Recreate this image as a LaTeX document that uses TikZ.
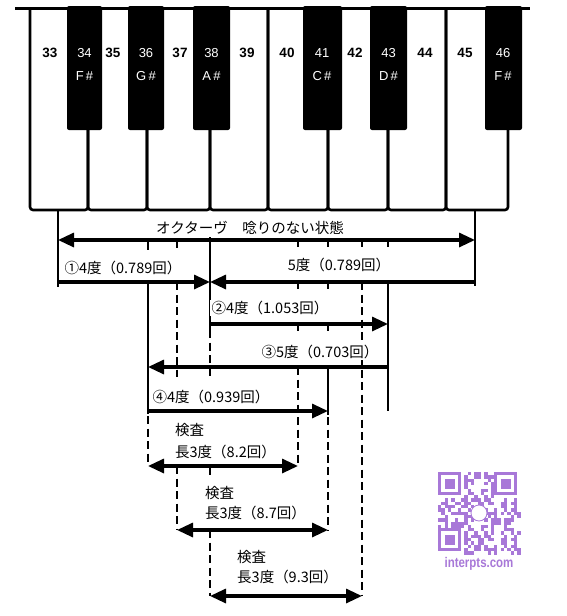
\documentclass[tikz,border=0pt]{standalone}
\usepackage{fontspec}
\setmainfont{Liberation Sans}
\newfontfamily\jp{Noto Sans CJK JP}
\usetikzlibrary{arrows.meta,calc}
\definecolor{qrpurple}{RGB}{168,120,216}
\begin{document}
\begin{tikzpicture}[x=1pt,y=-1pt,
  keyline/.style={line width=2.6pt, rounded corners=3pt},
  lead/.style={line width=2.6pt},
  dlead/.style={line width=2.6pt, dash pattern=on 8pt off 4.5pt},
  dimline/.style={line width=3.2pt},
  arrR/.style={-{Triangle[length=16pt,width=14pt]}},
  arrL/.style={{Triangle[length=16pt,width=14pt]}-},
  arrLR/.style={{Triangle[length=16pt,width=14pt]}-{Triangle[length=16pt,width=14pt]}},
  lbl/.style={font=\jp\fontsize{14.5}{16}\selectfont, inner sep=1.5pt, fill=white},
  lblw/.style={font=\jp\fontsize{14.5}{16}\selectfont, inner sep=0pt, anchor=west},
  wnum/.style={font=\bfseries\fontsize{13.5}{15}\selectfont},
  bnum/.style={text=white, font=\fontsize{13}{15}\selectfont},
]
\useasboundingbox[fill=white] (0,0) rectangle (567,616);

% ---------- keyboard ----------
\foreach \xl/\xr in {30/88,88/147,147/210,210/268,268/328,328/388,388/446,446/508}
  \draw[keyline] (\xl,8) -- (\xl,210) -- (\xr,210) -- (\xr,8);
\foreach \xl/\xr in {67/102,128/164,193/230,303/342,370/407,485/522}
  \fill[rounded corners=2pt] (\xl,6) -- (\xl,130) -- (\xr,130) -- (\xr,6) -- cycle;
\draw[line width=3pt] (15,8) -- (530,8);

\foreach \n/\x in {33/50,35/113,37/180,39/247,40/287,42/355,44/425,45/465}
  \node[wnum] (k\n) at (\x,53) {\n};
\foreach \n/\x/\s in {34/84.5/F,36/146/G,38/211.5/A,41/322/C,43/388.5/D,46/503/F}{
  \node[bnum] (k\n) at (\x,53) {\n};
  \node[bnum] (s\n) at (\x,76) {\s\,\#};
}

% ---------- coordinates ----------
\foreach \n/\x in {a/58,b/148,c/177,d/210,e/298,f/328,g/362,h/388,i/475}
  \foreach \m/\y in {K/211,0/240,1/282,2/324,3/367,4/411,5/466,6/530,7/596}
    \coordinate (\n\m) at (\x,\y);

% ---------- leader lines ----------
\draw[lead] (aK) -- ($(a1)+(0,5)$);
\draw[lead] (iK) -- ($(i1)+(0,4)$);
% key 38
\draw[lead] ($(d0)+(0,-3)$) -- ($(d2)+(0,6)$);
\draw[dlead] ($(d2)+(0,6)$) -- ($(d3)+(0,11)$);
\draw[lead] (d5) -- ($(d5)+(0,9)$);
\draw[dlead] (d6) -- (d7);
% key 36
\draw[lead] (b0) -- ($(b0)+(0,10)$);
\draw[lead] (b1) -- ($(b4)+(0,3)$);
\draw[dlead] ($(b4)+(0,5)$) -- (b5);
% key 37
\draw[dlead] (c0) -- ($(c0)+(0,10)$);
\draw[dlead] (c1) -- ($(c3)+(0,10)$);
\draw[dlead] (c5) -- (c6);
% key 40
\foreach \y in {0,1,2} \draw[lead] (e\y) -- ($(e\y)+(0,7)$);
\draw[dlead] (e3) -- (e5);
% key 41
\foreach \y in {0,1,2} \draw[lead] (f\y) -- ($(f\y)+(0,7)$);
\draw[lead] (f3) -- ($(f4)+(0,4)$);
\draw[dlead] ($(f4)+(0,6)$) -- (f6);
% key 42
\draw[lead] (g0) -- ($(g0)+(0,7)$);
\draw[dlead] (g1) -- (g7);
% key 43
\draw[lead] (h0) -- ($(h0)+(0,7)$);
\draw[lead] (h1) -- (h4);

% ---------- dimension lines ----------
\draw[dimline, arrLR] (a0) -- (i0);
\draw[dimline, arrR] (a1) -- (d1);
\draw[dimline, arrL] (d1) -- (i1);
\draw[dimline, arrR] (d2) -- (h2);
\draw[dimline, arrR] (h3) -- (b3);
\draw[dimline, arrR] (b4) -- (f4);
\draw[dimline, arrLR] (b5) -- (e5);
\draw[dimline, arrLR] (c6) -- (f6);
\draw[dimline, arrLR] (d7) -- (g7);

% ---------- labels ----------
\node[lbl] (t0) at (250,228) {オクターヴ　唸りのない状態};
\node[lbl] (t1) at (123,268) {①4度（0.789回）};
\node[lbl] (t2) at (339,265) {5度（0.789回）};
\node[lbl] (t3) at (270,308) {②4度（1.053回）};
\node[lbl] (t4) at (320,352) {③5度（0.703回）};
\node[lbl] (t5) at (211,397) {④4度（0.939回）};
\node[lblw] (t6a) at (175,430) {検査};
\node[lblw] (t6b) at (175,452) {長3度（8.2回）};
\node[lblw] (t7a) at (205,493) {検査};
\node[lblw] (t7b) at (205,513) {長3度（8.7回）};
\node[lblw] (t8a) at (237,557) {検査};
\node[lblw] (t8b) at (237,577) {長3度（9.3回）};

% ---------- watermark ----------
\begin{scope}[qrpurple]
\def\qm{3.3}
\foreach \i in {0,...,24}{
  \foreach \j in {0,...,24}{
    \pgfmathtruncatemacro\v{mod(\i*37+\j*91+\i*\j*13+mod(\i*\i,7)*\j*3+\j*\j*3,11)}
    \pgfmathtruncatemacro\zone{(\i<8 && \j<8) || (\i>16 && \j<8) || (\i<8 && \j>16) ? 1 : 0}
    \ifnum\zone=0 \ifnum\v<5
      \fill (438+\i*\qm,472+\j*\qm) rectangle ++(\qm,\qm);
    \fi\fi
  }
}
\foreach \ox/\oy in {438/472,494.1/472,438/528.1}{
  \fill (\ox,\oy) rectangle ++(7*\qm,7*\qm);
  \fill[white] (\ox+\qm,\oy+\qm) rectangle ++(5*\qm,5*\qm);
  \fill (\ox+2*\qm,\oy+2*\qm) rectangle ++(3*\qm,3*\qm);
}
\filldraw[fill=white, line width=0.8pt] (479,513) circle (8);
\node[font=\bfseries\fontsize{14}{16}\selectfont, xscale=0.82, inner sep=0pt] (wm) at (479,564) {interpts.com};
\end{scope}
\end{tikzpicture}
\end{document}
